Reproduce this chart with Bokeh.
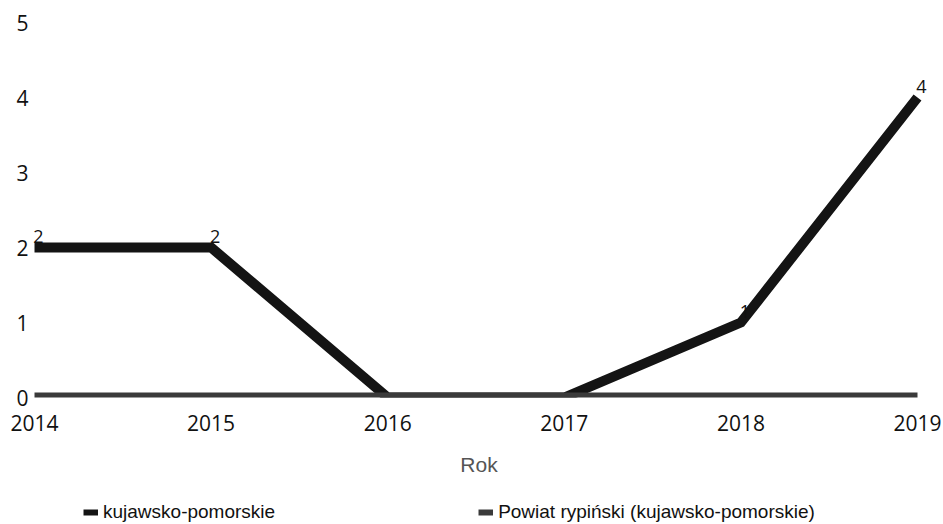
from bokeh.plotting import figure
from bokeh.layouts import column
from bokeh.core.properties import value
from bokeh.models import (Range1d, FixedTicker, Legend, LegendItem, LabelSet,
                          ColumnDataSource)
from bokeh.embed import file_html
from bokeh.resources import INLINE

years = [2014, 2015, 2016, 2017, 2018, 2019]
kujawsko = [2, 2, 0, 0, 1, 4]
powiat = [0, 0, 0, 0, 0, 0]
y_ticks = [0, 1, 2, 3, 4, 5]
series_names = ["kujawsko-pomorskie", "Powiat rypiński (kujawsko-pomorskie)"]
x_title = "Rok"

c1 = "#141414"
c2 = "#3a3a3a"

p = figure(width=943, height=497, output_backend="svg", toolbar_location=None,
           x_range=Range1d(2014 - 0.0227, 2019 + 0.0566), y_range=Range1d(0, 5),
           min_border_left=30, min_border_right=16, min_border_top=22,
           min_border_bottom=100)
p.outline_line_color = None
p.grid.grid_line_color = None

r1 = p.line(years, kujawsko, line_width=10, line_color=c1, line_join="miter")
r2 = p.line(years, powiat, line_width=10, line_color=c2)

# value labels (non-zero only)
lx = [x for x, v in zip(years, kujawsko) if v != 0]
lv = [v for v in kujawsko if v != 0]
src = ColumnDataSource(dict(x=lx, y=lv, t=[str(v) for v in lv]))
labels = LabelSet(x="x", y="y", text="t", source=src, text_align="center",
                  text_baseline="bottom", x_offset=4, y_offset=5,
                  text_font=value("Open Sans"), text_font_size=value("18px"),
                  text_color="#111111")
p.add_layout(labels)

xa = p.xaxis[0]
xa.ticker = FixedTicker(ticks=years)
xa.major_label_overrides = {y: str(y) for y in years}
xa.axis_line_color = None
xa.major_tick_line_color = None
xa.minor_tick_line_color = None
xa.major_tick_out = 0
xa.major_label_standoff = 17
xa.major_label_text_font = "Open Sans"
xa.major_label_text_font_size = "21px"
xa.major_label_text_color = "#111111"
xa.axis_label = x_title
xa.axis_label_standoff = 19
xa.axis_label_text_font = "Liberation Sans"
xa.axis_label_text_font_style = "normal"
xa.axis_label_text_font_size = "21px"
xa.axis_label_text_color = "#555555"

ya = p.yaxis[0]
ya.ticker = FixedTicker(ticks=y_ticks)
ya.axis_line_color = None
ya.major_tick_line_color = None
ya.minor_tick_line_color = None
ya.major_tick_out = 0
ya.major_label_standoff = 2
ya.major_label_text_font = "Open Sans"
ya.major_label_text_font_size = "21px"
ya.major_label_text_color = "#111111"

# legend strip below the chart (swatch renderers sit outside the visible range)
lg = figure(width=943, height=27, output_backend="svg", toolbar_location=None,
            x_axis_type=None, y_axis_type=None,
            x_range=Range1d(0, 1), y_range=Range1d(0, 1),
            min_border_left=0, min_border_right=0, min_border_top=0,
            min_border_bottom=0)
lg.outline_line_color = None
lg.grid.grid_line_color = None
d1 = lg.line([-5, -4], [-5, -5], line_width=6, line_color=c1)
d2 = lg.line([-5, -4], [-5, -5], line_width=6, line_color=c2)
legend = Legend(items=[LegendItem(label=series_names[0], renderers=[d1]),
                       LegendItem(label=series_names[1], renderers=[d2])],
                orientation="horizontal", location=(53, 1),
                spacing=203, padding=0, margin=0, glyph_width=15,
                glyph_height=20, label_height=20, label_standoff=5,
                label_text_font="Liberation Sans", label_text_font_size="19px",
                label_text_color="#111111", border_line_color=None,
                background_fill_alpha=0)
lg.add_layout(legend, "center")

layout = column(p, lg, spacing=0)
open("out.html", "w").write(file_html(layout, INLINE))
